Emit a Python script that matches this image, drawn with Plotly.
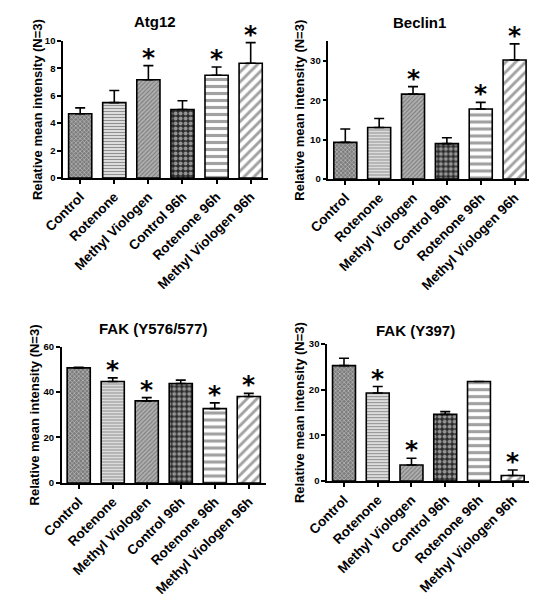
import plotly.graph_objects as go

categories = ["Control", "Rotenone", "Methyl Viologen", "Control 96h",
              "Rotenone 96h", "Methyl Viologen 96h"]

atg12_mean = [4.69, 5.5, 7.17, 5.0, 7.5, 8.38]
atg12_err = [0.43, 0.88, 1.03, 0.64, 0.6, 1.5]
atg12_sig = [0, 0, 1, 0, 1, 1]

beclin1_mean = [9.3, 13.1, 21.6, 9.0, 17.8, 30.3]
beclin1_err = [3.4, 2.3, 1.9, 1.5, 1.7, 4.1]
beclin1_sig = [0, 0, 1, 0, 1, 1]

fak576_mean = [50.6, 44.6, 36.1, 43.7, 32.7, 38.0]
fak576_err = [0.3, 1.6, 1.4, 1.5, 2.5, 1.4]
fak576_sig = [0, 1, 1, 0, 1, 1]

fak397_mean = [25.3, 19.3, 3.5, 14.6, 21.8, 1.2]
fak397_err = [1.6, 1.4, 1.5, 0.6, 0.0, 1.2]
fak397_sig = [0, 1, 1, 0, 0, 1]

titles = ["Atg12", "Beclin1", "FAK (Y576/577)", "FAK (Y397)"]
y_title = "Relative mean intensity (N=3)"

W, H = 537, 601
OFF = 8  # default page body margin
FONT = "Liberation Sans, Arial, sans-serif"


def fx(x):
    return (x - OFF) / W


def fy(y):
    return 1 - (y - OFF) / H


# pattern styles per category
bar_colors = ["#7c7c7c", "#dcdcdc", "#b0b0b0", "#2a2a2a", "white", "white"]
pat_shape = ["x", "-", "/", ".", "-", "/"]
pat_fg = ["#333333", "#8a8a8a", "#666666", "white", "black", "black"]
pat_size = [3, 3, 3, 5, 7, 7]
pat_sol = [0.4, 0.35, 0.35, 0.5, 0.45, 0.42]

panels = [
    dict(mean=atg12_mean, err=atg12_err, sig=atg12_sig, xdom=(44.5, 257), y0=175, y1=35.5, rng=(0, 10), dtick=2,
         title_xy=(140, 16), ytitle_x=18),
    dict(mean=beclin1_mean, err=beclin1_err, sig=beclin1_sig, xdom=(320, 531), y0=176, y1=36, rng=(0, 35), dtick=10,
         title_xy=(415, 17), ytitle_x=290),
    dict(mean=fak576_mean, err=fak576_err, sig=fak576_sig, xdom=(43, 255), y0=485.7, y1=346.7, rng=(0, 60), dtick=20,
         title_xy=(138, 328), ytitle_x=15),
    dict(mean=fak397_mean, err=fak397_err, sig=fak397_sig, xdom=(318.7, 529), y0=483.7, y1=344.3, rng=(0, 30), dtick=10,
         title_xy=(411, 330), ytitle_x=290),
]

fig = go.Figure()
annotations = []
layout = {}
for i, p in enumerate(panels):
    n = "" if i == 0 else str(i + 1)
    xa, ya = "x" + n, "y" + n
    fig.add_trace(go.Bar(
        x=categories, y=p["mean"], xaxis=xa, yaxis=ya, width=0.68,
        marker=dict(color=bar_colors, line=dict(color="black", width=1.6),
                    pattern=dict(shape=pat_shape, fgcolor=pat_fg, size=pat_size,
                                 solidity=pat_sol, fillmode="overlay")),
        error_y=dict(type="data", symmetric=False, array=p["err"],
                     arrayminus=[0] * 6, color="black", thickness=1.6, width=5),
        showlegend=False, hoverinfo="skip",
    ))
    for c, m, e, s in zip(categories, p["mean"], p["err"], p["sig"]):
        if s:
            annotations.append(dict(
                text="*", x=c, y=m + e, xref=xa, yref=ya, showarrow=False,
                xanchor="center", yanchor="bottom", yshift=-8,
                font=dict(family="DejaVu Sans", size=25, color="black", weight="bold"),
            ))
    xd0, xd1 = p["xdom"]
    layout["xaxis" + n] = dict(
        domain=[fx(xd0), fx(xd1)], anchor=ya, range=[-0.5, 5.5],
        showline=True, linecolor="black", linewidth=1.6, ticks="outside",
        ticklen=4, tickwidth=1.5, tickcolor="black", tickangle=-45,
        tickfont=dict(family=FONT, size=13.5, color="black", weight="bold"),
        showgrid=False, zeroline=False, fixedrange=True,
    )
    layout["yaxis" + n] = dict(
        domain=[fy(p["y0"]), fy(p["y1"])], anchor=xa, range=list(p["rng"]),
        dtick=p["dtick"], showline=True, linecolor="black", linewidth=1.6,
        ticks="outside", ticklen=4, tickwidth=1.5, tickcolor="black",
        tickfont=dict(family=FONT, size=9.5, color="black", weight="bold"),
        showgrid=False, zeroline=False, fixedrange=True,
    )
    tx, ty = p["title_xy"]
    annotations.append(dict(text=titles[i], x=fx(tx), y=fy(ty), xref="paper", yref="paper",
                            xanchor="center", yanchor="middle", showarrow=False,
                            font=dict(family=FONT, size=15, color="black", weight="bold")))
    annotations.append(dict(text=y_title, x=fx(p["ytitle_x"]),
                            y=fy((p["y0"] + p["y1"]) / 2), xref="paper", yref="paper",
                            xanchor="center", yanchor="middle", showarrow=False, textangle=-90,
                            font=dict(family=FONT, size=13, color="black", weight="bold")))

fig.update_layout(
    width=W, height=H, margin=dict(l=0, r=0, t=0, b=0),
    paper_bgcolor="white", plot_bgcolor="white",
    annotations=annotations, bargap=0.3, **layout,
)
fig.write_html("out.html", config={"displayModeBar": False})
